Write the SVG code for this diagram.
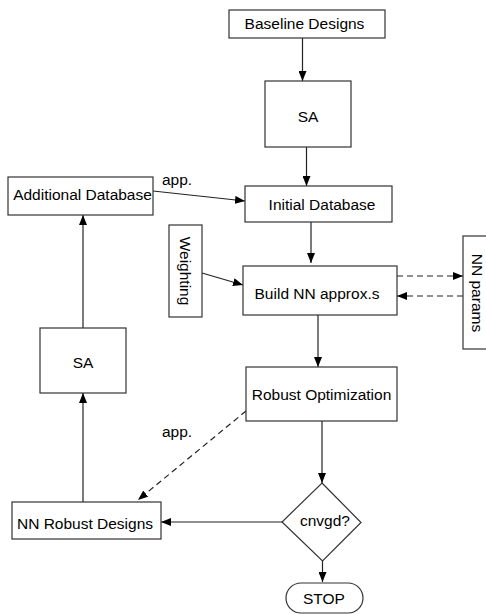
<svg xmlns="http://www.w3.org/2000/svg" width="486" height="614" viewBox="0 0 486 614">
<style>
.box{fill:#fff;stroke:#333;stroke-width:1.2}
.t{font-family:"Liberation Sans",Arial,sans-serif;font-size:15.5px;fill:#000;text-anchor:middle}
.c{fill:none;stroke:#222;stroke-width:1.2}
.d{stroke-dasharray:6,4}
</style>
<defs>
<marker id="ah" markerUnits="userSpaceOnUse" markerWidth="10" markerHeight="8" refX="10" refY="4" orient="auto">
<path d="M0,0 L10,4 L0,8 Z" fill="#000"/>
</marker>
</defs>
<rect width="486" height="614" fill="#fff"/>
<g id="connectors">
<line class="c" x1="302.5" y1="38" x2="302.5" y2="81" marker-end="url(#ah)"/>
<line class="c" x1="306.5" y1="147" x2="306.5" y2="186" marker-end="url(#ah)"/>
<line class="c" x1="153" y1="191" x2="245" y2="201" marker-end="url(#ah)"/>
<line class="c" x1="311" y1="222" x2="311" y2="263" marker-end="url(#ah)"/>
<line class="c" x1="202" y1="273" x2="243" y2="285" marker-end="url(#ah)"/>
<line class="c d" x1="397" y1="276" x2="463" y2="276" marker-end="url(#ah)"/>
<line class="c d" x1="463" y1="296" x2="397" y2="296" marker-end="url(#ah)"/>
<line class="c" x1="318" y1="315" x2="318" y2="367" marker-end="url(#ah)"/>
<line class="c d" x1="246" y1="411" x2="138" y2="500" marker-end="url(#ah)"/>
<line class="c" x1="322" y1="421" x2="322" y2="483" marker-end="url(#ah)"/>
<line class="c" x1="282" y1="522" x2="161" y2="522" marker-end="url(#ah)"/>
<line class="c" x1="83" y1="502" x2="83" y2="393" marker-end="url(#ah)"/>
<line class="c" x1="83" y1="328" x2="83" y2="215" marker-end="url(#ah)"/>
<line class="c" x1="322.5" y1="561" x2="322.5" y2="582" marker-end="url(#ah)"/>
<text class="t" x="177" y="185">app.</text>
<text class="t" x="177" y="437">app.</text>
</g>
<g id="baseline"><rect class="box" x="229" y="10" width="156" height="28"/><text class="t" x="304.5" y="29">Baseline Designs</text></g>
<g id="sa-top"><rect class="box" x="265" y="81" width="86" height="66"/><text class="t" x="308" y="121.5">SA</text></g>
<g id="additional"><rect class="box" x="8" y="177" width="145" height="38"/><text class="t" x="82.5" y="199.5">Additional Database</text></g>
<g id="initial"><rect class="box" x="245" y="186" width="147" height="36"/><text class="t" x="322" y="210">Initial Database</text></g>
<g id="weighting"><rect class="box" x="169" y="225" width="33" height="92"/><text class="t" x="180" y="271" transform="rotate(90 180 271)">Weighting</text></g>
<g id="build"><rect class="box" x="243" y="266" width="154" height="49"/><text class="t" x="317" y="298.5">Build NN approx.s</text></g>
<g id="nnparams"><rect class="box" x="463" y="236" width="30" height="113"/><text class="t" x="471.5" y="293" transform="rotate(90 471.5 293)">NN params</text></g>
<g id="robust"><rect class="box" x="246" y="367" width="151" height="54"/><text class="t" x="321.5" y="400">Robust Optimization</text></g>
<g id="sa-left"><rect class="box" x="40" y="328" width="86" height="65"/><text class="t" x="83" y="368">SA</text></g>
<g id="nnrobust"><rect class="box" x="12" y="502" width="149" height="37"/><text class="t" x="85" y="528.5">NN Robust Designs</text></g>
<g id="cnvgd"><polygon class="box" points="322,483 361,522.5 322.5,561 282,522"/><text class="t" x="325" y="526">cnvgd?</text></g>
<g id="stop"><rect class="box" x="286" y="583" width="77" height="30" rx="15" ry="15"/><text class="t" x="324" y="604">STOP</text></g>
</svg>
